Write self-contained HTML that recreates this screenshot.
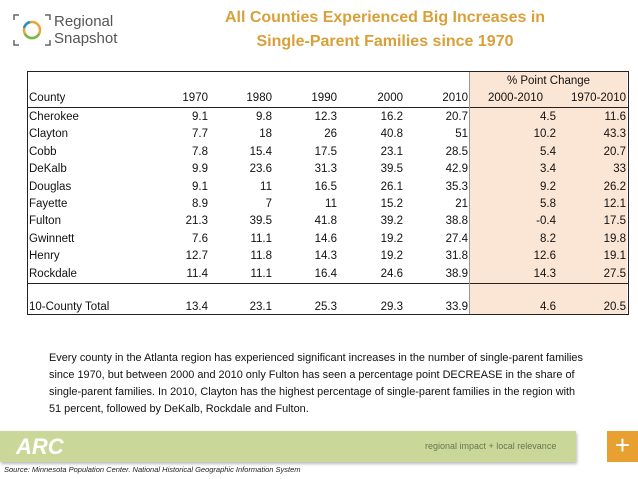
<!DOCTYPE html>
<html><head><meta charset="utf-8"><style>
body{margin:0;width:638px;height:479px;overflow:hidden;background:#fff;font-family:"Liberation Sans",sans-serif;position:relative}
.a{position:absolute;white-space:nowrap}
.t{font-size:11.5px;color:#111;line-height:14px}
</style></head><body>
<div class="a" style="left:12px;top:10px;width:120px;height:42px">
<svg width="40" height="40" style="position:absolute;left:0;top:2px"><path d="M2 8V3h5M2 28v5h5M33 3h5v5M38 28v5h-5" stroke="#666" fill="none" stroke-width="1.5"/><circle cx="20" cy="18" r="8" fill="none" stroke="#e8a33d" stroke-width="2.5"/><path d="M13 22a8 8 0 0 0 14 0" stroke="#7ab648" stroke-width="2.5" fill="none"/><path d="M12 16a8 8 0 0 1 6-6" stroke="#2a8fc6" stroke-width="2.5" fill="none"/></svg>
<div class="a" style="left:42px;top:3px;font-size:15px;line-height:17px;color:#555">Regional<br>Snapshot</div>
</div>
<div class="a" style="left:180px;width:410px;top:6px;text-align:center;font-size:16px;font-weight:bold;color:#d9a03a;line-height:24px">All Counties Experienced Big Increases in<br>Single-Parent Families since 1970</div>
<div class="a" style="left:470px;top:72px;width:157px;height:242px;background:#fbe5d5"></div>
<div class="a" style="left:27px;top:71px;width:600px;height:242px;border:1px solid #222"></div>
<div class="a" style="left:27px;top:107px;width:601px;height:1px;background:#222"></div>
<div class="a" style="left:27px;top:283px;width:601px;height:1px;background:#222"></div>
<div class="a" style="left:469px;top:72px;width:1px;height:242px;background:#999"></div>
<div class="a t" style="left:470px;width:157px;top:74px;text-align:center">% Point Change</div>
<div id="tbl"></div>
<div class="a" style="left:49px;top:350px;font-size:10.9px;line-height:17px;color:#111">Every county in the Atlanta region has experienced significant increases in the number of single-parent families<br>since 1970, but between 2000 and 2010 only Fulton has seen a percentage point DECREASE in the share of<br>single-parent families. In 2010, Clayton has the highest percentage of single-parent families in the region with<br>51 percent, followed by DeKalb, Rockdale and Fulton.</div>
<div class="a" style="left:0;top:431px;width:576px;height:31px;background:#c9d899;box-shadow:1px 2px 3px #bbb">
<div class="a" style="left:16px;top:3px;font-size:22px;font-weight:bold;font-style:italic;color:#fff">ARC</div>
<div class="a" style="left:425px;top:10px;font-size:9px;color:#6a7550">regional impact + local relevance</div></div>
<div class="a" style="left:607px;top:431px;width:31px;height:31px;background:#e8a030;color:#fff;font-size:26px;line-height:29px;text-align:center">+</div>
<div class="a" style="left:4px;top:465px;font-size:7.5px;font-style:italic;color:#222">Source: Minnesota Population Center. National Historical Geographic Information System</div>
<script>
const headers=["1970","1980","1990","2000","2010","2000-2010","1970-2010"];
const counties=["Cherokee","Clayton","Cobb","DeKalb","Douglas","Fayette","Fulton","Gwinnett","Henry","Rockdale","10-County Total"];
const v1970=["9.1","7.7","7.8","9.9","9.1","8.9","21.3","7.6","12.7","11.4","13.4"];
const v1980=["9.8","18","15.4","23.6","11","7","39.5","11.1","11.8","11.1","23.1"];
const v1990=["12.3","26","17.5","31.3","16.5","11","41.8","14.6","14.3","16.4","25.3"];
const v2000=["16.2","40.8","23.1","39.5","26.1","15.2","39.2","19.2","19.2","24.6","29.3"];
const v2010=["20.7","51","28.5","42.9","35.3","21","38.8","27.4","31.8","38.9","33.9"];
const c0010=["4.5","10.2","5.4","3.4","9.2","5.8","-0.4","8.2","12.6","14.3","4.6"];
const c7010=["11.6","43.3","20.7","33","26.2","12.1","17.5","19.8","19.1","27.5","20.5"];
const cols=[v1970,v1980,v1990,v2000,v2010,c0010,c7010];
const rights=[208,272,337,403,468,556,626];
const tbl=document.getElementById('tbl');
function add(txt,style,name){const d=document.createElement('div');d.className='a t';d.textContent=txt;d.style.cssText=style;


tbl.appendChild(d);}
add("County","left:29px;top:91px","county-header");
headers.forEach((h,i)=>{const r=i==5?543:rights[i];add(h,"right:"+(638-r)+"px;top:91px","col-header");});
counties.forEach((c,j)=>{const y=j<10?110+j*17.4:300;
add(c,"left:29px;top:"+y+"px","county-label");
cols.forEach((col,i)=>add(col[j],"right:"+(638-rights[i])+"px;top:"+y+"px","cell-value"));});
</script>
</body></html>
